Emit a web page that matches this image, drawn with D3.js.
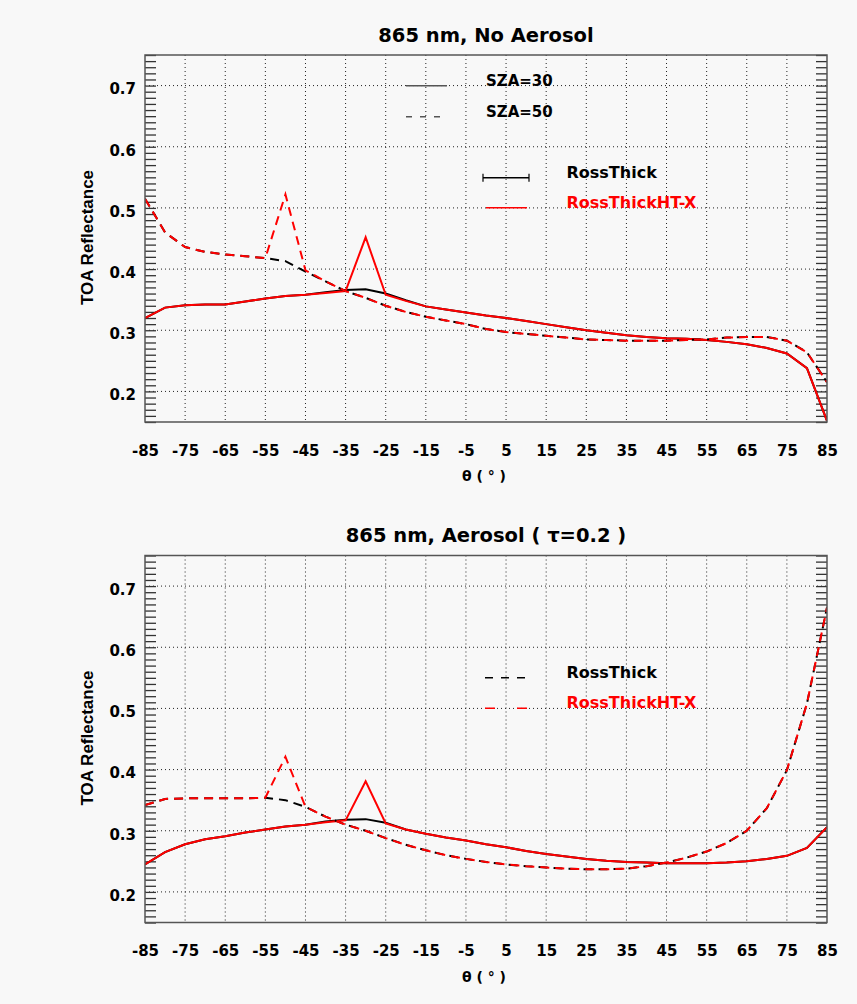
<!DOCTYPE html>
<html>
<head>
<meta charset="utf-8">
<script src="https://cdn.jsdelivr.net/npm/d3@7"></script>
<style>
  body { margin: 0; background: #f8f8f8; }
  text { font-family: "DejaVu Sans", sans-serif; font-weight: bold; }
</style>
</head>
<body>
<div id="vis"></div>
<script>
// view angle (deg)
const angles = [-85, -80, -75, -70, -65, -60, -55, -50, -45, -40, -35, -30, -25, -20, -15, -10, -5, 0,
                5, 10, 15, 20, 25, 30, 35, 40, 45, 50, 55, 60, 65, 70, 75, 80, 85];

const xTicks = [-85, -75, -65, -55, -45, -35, -25, -15, -5, 5, 15, 25, 35, 45, 55, 65, 75, 85];
const yTicks = [0.2, 0.3, 0.4, 0.5, 0.6, 0.7];

// 865 nm, no aerosol
const topHT30 = [0.320, 0.337, 0.341, 0.342, 0.342, 0.347, 0.352, 0.356, 0.358, 0.361, 0.364, 0.452, 0.358, 0.348, 0.339, 0.334, 0.329, 0.324,
                 0.320, 0.315, 0.310, 0.305, 0.300, 0.296, 0.292, 0.289, 0.287, 0.286, 0.284, 0.281, 0.277, 0.271, 0.262, 0.238, 0.152];
const topRT30 = [0.320, 0.337, 0.341, 0.342, 0.342, 0.347, 0.352, 0.356, 0.358, 0.362, 0.366, 0.367, 0.360, 0.349, 0.339, 0.334, 0.329, 0.324,
                 0.320, 0.315, 0.310, 0.305, 0.300, 0.296, 0.292, 0.289, 0.287, 0.286, 0.284, 0.281, 0.277, 0.271, 0.262, 0.238, 0.152];
const topHT50 = [0.515, 0.460, 0.436, 0.428, 0.424, 0.421, 0.418, 0.522, 0.398, 0.380, 0.364, 0.353, 0.340, 0.330, 0.322, 0.316, 0.310, 0.302,
                 0.297, 0.294, 0.291, 0.288, 0.285, 0.284, 0.283, 0.283, 0.283, 0.284, 0.285, 0.288, 0.289, 0.289, 0.283, 0.264, 0.215];
const topRT50 = [0.515, 0.460, 0.436, 0.428, 0.424, 0.421, 0.418, 0.413, 0.396, 0.380, 0.364, 0.353, 0.340, 0.330, 0.322, 0.316, 0.310, 0.302,
                 0.297, 0.294, 0.291, 0.288, 0.285, 0.284, 0.283, 0.283, 0.283, 0.284, 0.285, 0.288, 0.289, 0.289, 0.283, 0.264, 0.215];

// 865 nm, aerosol tau=0.2
const botHT30 = [0.245, 0.265, 0.278, 0.286, 0.291, 0.297, 0.302, 0.307, 0.310, 0.314, 0.317, 0.381, 0.312, 0.302, 0.295, 0.289, 0.284, 0.278,
                 0.273, 0.267, 0.262, 0.258, 0.254, 0.251, 0.249, 0.248, 0.247, 0.247, 0.247, 0.248, 0.250, 0.254, 0.259, 0.272, 0.306];
const botRT30 = [0.245, 0.265, 0.278, 0.286, 0.291, 0.297, 0.302, 0.307, 0.310, 0.315, 0.318, 0.319, 0.313, 0.302, 0.295, 0.289, 0.284, 0.278,
                 0.273, 0.267, 0.262, 0.258, 0.254, 0.251, 0.249, 0.248, 0.247, 0.247, 0.247, 0.248, 0.250, 0.254, 0.259, 0.272, 0.306];
const botHT50 = [0.342, 0.352, 0.353, 0.353, 0.353, 0.353, 0.354, 0.421, 0.339, 0.323, 0.310, 0.300, 0.288, 0.277, 0.268, 0.260, 0.254, 0.249,
                 0.245, 0.242, 0.240, 0.238, 0.237, 0.237, 0.238, 0.242, 0.248, 0.256, 0.266, 0.280, 0.300, 0.337, 0.399, 0.508, 0.665];
const botRT50 = [0.342, 0.352, 0.353, 0.353, 0.353, 0.353, 0.354, 0.350, 0.339, 0.323, 0.310, 0.300, 0.288, 0.277, 0.268, 0.260, 0.254, 0.249,
                 0.245, 0.242, 0.240, 0.238, 0.237, 0.237, 0.238, 0.242, 0.248, 0.256, 0.266, 0.280, 0.300, 0.337, 0.399, 0.508, 0.665];

const width = 857;
const height = 1004;

const svg = d3.select('#vis').append('svg')
    .attr('width', width)
    .attr('height', height)
    .style('background', '#f8f8f8');

const left = 145, right = 827, ph = 367;

const x = d3.scaleLinear().domain([-85, 85]).range([left, right]);
const y = d3.scaleLinear().domain([0.15, 0.75]).range([ph, 0]);

const line = d3.line().x((d, i) => x(angles[i])).y(d => y(d));

function drawPanel(top, title, series, legend) {
    const g = svg.append('g').attr('transform', `translate(0,${top})`);

    g.append('defs').append('clipPath').attr('id', 'clip' + top)
        .append('rect').attr('x', left).attr('y', 0).attr('width', right - left).attr('height', ph);

    // dotted grid
    g.append('g').selectAll('line')
        .data(xTicks.slice(1, -1))
        .join('line')
        .attr('x1', d => x(d)).attr('x2', d => x(d))
        .attr('y1', 0).attr('y2', ph)
        .attr('stroke', '#222').attr('stroke-width', 1).attr('stroke-dasharray', '1,3');
    g.append('g').selectAll('line')
        .data(yTicks)
        .join('line')
        .attr('x1', left).attr('x2', right)
        .attr('y1', d => y(d)).attr('y2', d => y(d))
        .attr('stroke', '#222').attr('stroke-width', 1).attr('stroke-dasharray', '1,3');

    // inward minor ticks on both y axes
    const minor = d3.range(15, 76).map(d => d / 100);
    g.append('g').attr('transform', `translate(${left},0)`)
        .call(d3.axisLeft(y).tickValues(minor).tickSize(-11).tickFormat(''))
        .call(a => a.select('.domain').remove())
        .selectAll('line').attr('stroke', '#333').attr('stroke-width', 1.3);
    g.append('g').attr('transform', `translate(${right},0)`)
        .call(d3.axisRight(y).tickValues(minor).tickSize(-11).tickFormat(''))
        .call(a => a.select('.domain').remove())
        .selectAll('line').attr('stroke', '#333').attr('stroke-width', 1.3);

    // tick labels
    g.append('g').attr('transform', `translate(${left},0)`)
        .call(d3.axisLeft(y).tickValues(yTicks).tickSize(0).tickPadding(9).tickFormat(d3.format('.1f')))
        .call(a => a.select('.domain').remove())
        .selectAll('text').attr('font-size', 15).attr('fill', '#000').attr('dy', '0.55em');
    g.append('g').attr('transform', `translate(0,${ph})`)
        .call(d3.axisBottom(x).tickValues(xTicks).tickSize(0).tickPadding(23).tickFormat(d => String(d)))
        .call(a => a.select('.domain').remove())
        .selectAll('text').attr('font-size', 15).attr('fill', '#000');

    // curves
    const curves = g.append('g').attr('clip-path', `url(#clip${top})`);
    series.forEach(s => {
        curves.append('path')
            .datum(s.values)
            .attr('d', line)
            .attr('fill', 'none')
            .attr('stroke', s.color)
            .attr('stroke-width', 2)
            .attr('stroke-dasharray', s.dashed ? '9,6' : null);
    });

    // frame
    g.append('rect')
        .attr('x', left).attr('y', 0).attr('width', right - left).attr('height', ph)
        .attr('fill', 'none').attr('stroke', '#555').attr('stroke-width', 1.5);

    // titles
    g.append('text').attr('x', 486).attr('y', -13.5)
        .attr('text-anchor', 'middle').attr('font-size', 19.5).text(title);
    g.append('text').attr('x', 484).attr('y', 426)
        .attr('text-anchor', 'middle').attr('font-size', 14).text('θ ( ° )');
    g.append('text').attr('transform', `translate(93,${ph / 2 - 1})rotate(-90)`)
        .attr('text-anchor', 'middle')
        .style('font-family', '"Liberation Sans", Arial, sans-serif')
        .style('font-weight', 'bold')
        .style('font-size', '17px')
        .text('TOA Reflectance');

    // legend
    legend.forEach(l => {
        const lg = g.append('g');
        lg.append('line')
            .attr('x1', l.x1).attr('x2', l.x2).attr('y1', l.y).attr('y2', l.y)
            .attr('stroke', l.color).attr('stroke-width', 1.4)
            .attr('stroke-dasharray', l.dash);
        if (l.caps) {
            [l.x1, l.x2].forEach(cx => lg.append('line')
                .attr('x1', cx).attr('x2', cx).attr('y1', l.y - 4).attr('y2', l.y + 4)
                .attr('stroke', l.color).attr('stroke-width', 1.2));
        }
        lg.append('text').attr('x', l.tx).attr('y', l.y)
            .attr('font-size', l.size).attr('fill', l.tcolor || l.color).text(l.label);
    });
}

drawPanel(55, '865 nm, No Aerosol', [
    {values: topRT30, color: '#000', dashed: false},
    {values: topHT30, color: '#ff0000', dashed: false},
    {values: topRT50, color: '#000', dashed: true},
    {values: topHT50, color: '#ff0000', dashed: true}
], [
    {label: 'SZA=30', x1: 406, x2: 447, y: 30.7, color: '#555', tcolor: '#000', dash: null, tx: 486, size: 15},
    {label: 'SZA=50', x1: 406, x2: 447, y: 61.7, color: '#555', tcolor: '#000', dash: '6,8', tx: 486, size: 15},
    {label: 'RossThick', x1: 483, x2: 529, y: 122.7, color: '#000', dash: null, tx: 566.5, size: 16, caps: true},
    {label: 'RossThickHT-X', x1: 486, x2: 527, y: 152.7, color: '#ff0000', dash: null, tx: 566.5, size: 16}
]);

drawPanel(555.5, '865 nm, Aerosol ( τ=0.2 )', [
    {values: botRT30, color: '#000', dashed: false},
    {values: botHT30, color: '#ff0000', dashed: false},
    {values: botRT50, color: '#000', dashed: true},
    {values: botHT50, color: '#ff0000', dashed: true}
], [
    {label: 'RossThick', x1: 485, x2: 527, y: 122.2, color: '#000', dash: '8,8', tx: 566.5, size: 16},
    {label: 'RossThickHT-X', x1: 485, x2: 527, y: 152.8, color: '#ff0000', dash: '10,22', tx: 566.5, size: 16}
]);
</script>
</body>
</html>
